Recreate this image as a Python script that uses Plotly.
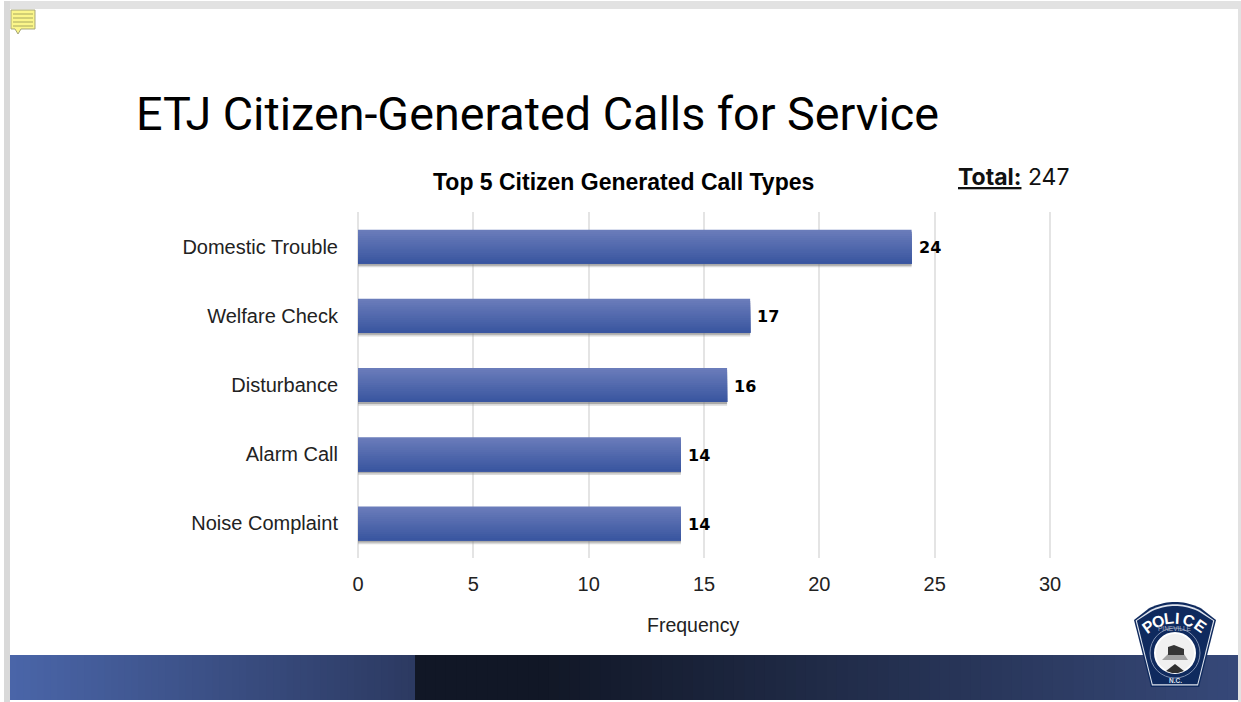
import math
import plotly.graph_objects as go

categories = ["Domestic Trouble", "Welfare Check", "Disturbance", "Alarm Call", "Noise Complaint"]
frequency = [24, 17, 16, 14, 14]
x_ticks = [0, 5, 10, 15, 20, 25, 30]
chart_title = "Top 5 Citizen Generated Call Types"
slide_title = "ETJ Citizen-Generated Calls for Service"

W, H = 1241, 702
def X(p): return p / W
def Y(p): return 1 - p / H
def mix(a, b, t):
    return "rgb(%d,%d,%d)" % tuple(round(a[i] + (b[i] - a[i]) * t) for i in range(3))

shapes = []
def rect(x0, y0, x1, y1, fill, line=None, layer="below"):
    shapes.append(dict(type="rect", xref="paper", yref="paper", x0=X(x0), x1=X(x1), y0=Y(y0), y1=Y(y1),
                       fillcolor=fill, line=dict(width=1 if line else 0, color=line or fill), layer=layer))
def poly(pts, fill, line=None, lw=1, layer="above"):
    path = "M " + " L ".join(f"{X(a):.5f},{Y(b):.5f}" for a, b in pts) + " Z"
    shapes.append(dict(type="path", xref="paper", yref="paper", path=path, fillcolor=fill,
                       line=dict(width=lw if line else 0, color=line or fill), layer=layer))
def circle(cx, cy, r, fill, line=None, lw=1):
    shapes.append(dict(type="circle", xref="paper", yref="paper", x0=X(cx - r), x1=X(cx + r), y0=Y(cy + r), y1=Y(cy - r),
                       fillcolor=fill, line=dict(width=lw if line else 0, color=line or fill), layer="above"))

# window frame
rect(0, 0, W, H, "#ffffff")
rect(4, 1, W, 9, "#e2e2e2")
rect(4, 1, 10, H, "#d9d9d9")
rect(1238, 1, W, H, "#e2e2e2")

# footer band: each step paints to the far end, so no seams show
n = 60
for i in range(n):
    t = i / (n - 1)
    rect(10 + (415 - 10) * i / n, 655, 415, 700, mix((74, 101, 168), (44, 58, 98), t))
steps = 80
for i in range(steps):
    t = max(0, (i / (steps - 1) - 0.15) / 0.85)
    rect(415 + (1238 - 415) * i / steps, 655, 1238, 700, mix((17, 23, 38), (54, 72, 120), t))

# note icon
poly([(11, 10), (35, 10), (35, 29), (21, 29), (18, 34), (15, 29), (11, 29)], "#fbf68a", "#a6a67a", 1)
for yy in (14, 18, 22, 26):
    shapes.append(dict(type="line", xref="paper", yref="paper", x0=X(13), x1=X(33), y0=Y(yy), y1=Y(yy),
                       line=dict(color="#a8a860", width=1), layer="above"))

# badge
def badge(scale, fill, line=None, lw=1):
    top = []
    for i in range(21):
        a = math.radians(-118 + 56 * i / 20)
        top.append((1175 + 56 * scale * math.cos(a), 658 + 56 * scale * math.sin(a)))
    pts = [(1134 + (1 - scale) * 41, 620 + (1 - scale) * 10)] + top + \
          [(1216 - (1 - scale) * 41, 620 + (1 - scale) * 10),
           (1199 - (1 - scale) * 24, 687 - (1 - scale) * 40),
           (1151 + (1 - scale) * 24, 687 - (1 - scale) * 40)]
    poly(pts, fill, line, lw)
badge(1.0, "#0f2a5e")
badge(0.96, "#dfe4ee")
badge(0.93, "#0f2a5e")
circle(1175, 653, 25, "#0f2a5e", "#7f8fb0", 1)
circle(1175, 653, 20, "#f0f0f0", "#ffffff", 2)
poly([(1162, 660), (1168, 654), (1184, 654), (1188, 660)], "#a0a0a0")
poly([(1168, 647), (1174, 645), (1184, 649), (1184, 655), (1168, 655)], "#353535")
poly([(1166, 671), (1175, 664), (1184, 671), (1178, 673), (1172, 673)], "#303030")

annotations = []
def text(px, py, s, size, color="#000000", family="Liberation Sans", xanchor="left", angle=0, yanchor="middle"):
    annotations.append(dict(xref="paper", yref="paper", x=X(px), y=Y(py), text=s, showarrow=False,
                            xanchor=xanchor, yanchor=yanchor, textangle=angle, align="left",
                            font=dict(size=size, color=color, family=family)))

text(134, 114, slide_title, 46.7, "#000000", "Roboto")
text(623.5, 182, f"<b>{chart_title}</b>", 23, "#000000", "Liberation Sans", "center")
text(956, 177, "<b><u>Total:</u></b> 247", 23, "#111111", "Inter")
text(693, 625, "Frequency", 19.5, "#222222", "Liberation Sans", "center")
for ch, a in zip("POLICE", (-36, -22, -8, 3, 18, 35)):
    r = math.radians(a)
    text(1175 + 45 * math.sin(r), 663 - 45 * math.cos(r), f"<b>{ch}</b>", 16, "#ffffff", "Liberation Sans", "center", a)
text(1175, 628.5, "PINEVILLE", 6.5, "#aab3c8", "Liberation Sans", "center")
text(1175, 680, "<b>N.C.</b>", 6.5, "#dfe4ee", "Liberation Sans", "center")

for cat, val in zip(categories, frequency):
    annotations.append(dict(xref="x", yref="y", x=val, y=cat, text=f"<b>{val}</b>", showarrow=False,
                            xanchor="left", xshift=5, yshift=-1,
                            font=dict(size=16, color="#000000", family="DejaVu Sans")))

fig = go.Figure()
bar_w = 0.49
top_c, bot_c = (106, 124, 186), (58, 86, 160)
# soft shadow below each bar
for shift, col in ((0.055, "rgba(150,150,150,0.35)"), (0.03, "rgba(120,120,120,0.5)")):
    fig.add_bar(y=categories, x=frequency, orientation="h", width=bar_w, offset=-bar_w / 2 + shift,
                marker=dict(color=col, line=dict(width=0)), hoverinfo="skip", showlegend=False)
# gradient: each layer paints from its own top edge to the bar's bottom
k = 16
for i in range(k):
    fig.add_bar(y=categories, x=frequency, orientation="h", width=bar_w * (1 - i / k),
                offset=-bar_w / 2 + bar_w * i / k,
                marker=dict(color=mix(top_c, bot_c, i / (k - 1)), line=dict(width=0)),
                hoverinfo="skip", showlegend=False)

u = 692 / 30
fig.update_layout(
    width=W, height=H, autosize=False, barmode="overlay", showlegend=False,
    margin=dict(l=0, r=0, t=0, b=0), paper_bgcolor="#ffffff", plot_bgcolor="rgba(0,0,0,0)",
    shapes=shapes, annotations=annotations,
    xaxis=dict(domain=[X(358), X(1052)], range=[0, 30 + 2 / u], tickvals=x_ticks, showgrid=True, gridcolor="#e4e4e4",
               gridwidth=1.5, zeroline=True, zerolinecolor="#e4e4e4", zerolinewidth=1.5, showline=False, ticks="",
               automargin=False, ticklabelstandoff=12, tickfont=dict(size=20, color="#222222", family="Liberation Sans")),
    yaxis=dict(domain=[Y(558), Y(212)], autorange="reversed", showgrid=False, zeroline=False, showline=False,
               automargin=False, ticks="", ticklabelstandoff=19, tickfont=dict(size=20, color="#222222", family="Liberation Sans")),
)
post = ("var gd=document.getElementById('{plot_id}');document.body.style.margin='0';"
        "document.body.style.overflow='hidden';Plotly.relayout(gd,{width:1241,height:702});")
fig.write_html("out.html", config=dict(displayModeBar=False), default_width="1241px", default_height="702px",
               post_script=post)
